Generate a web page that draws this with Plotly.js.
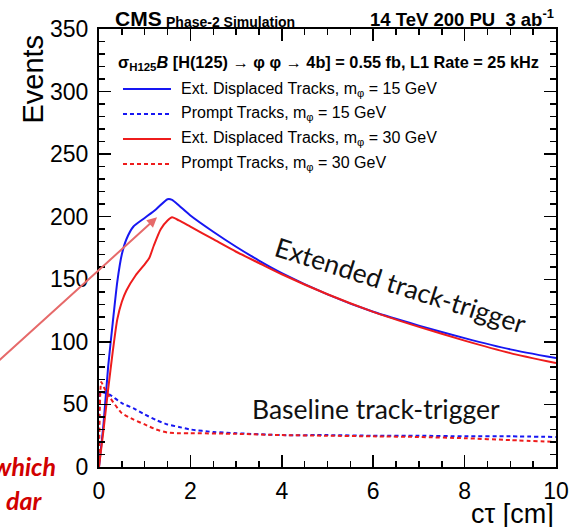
<!DOCTYPE html>
<html>
<head>
<meta charset="utf-8">
<script src="https://cdn.plot.ly/plotly-3.0.1.min.js"></script>
<style>
  html, body { margin: 0; padding: 0; background: #ffffff; }
  #chart { width: 570px; height: 527px; }
</style>
</head>
<body>
<div id="chart"></div>
<script>
// Decay length c*tau [cm] and selected signal events for H(125) -> phi phi -> 4b

// Extended (displaced) track trigger, m_phi = 15 GeV
const ctauExt15 = [0, 0.1, 0.2, 0.3, 0.4, 0.5, 0.6, 0.75, 1.0, 1.25, 1.5, 1.6, 1.75, 2, 2.5, 3, 3.5, 4, 5, 6, 7, 8, 9, 10];
const eventsExt15 = [0, 35, 80, 115, 148, 170, 182, 192, 199, 206, 214, 213.5, 209, 201, 188, 176, 165, 155, 138, 124, 113, 103, 94, 87];

// Prompt track trigger, m_phi = 15 GeV
const ctauPrompt15 = [0, 0.03, 0.1, 0.25, 0.5, 0.75, 1.0, 1.25, 1.5, 1.75, 2, 2.5, 3, 4, 5, 6, 7, 8, 9, 10];
const eventsPrompt15 = [0, 60, 59.5, 57.5, 51, 47, 42, 37.5, 34, 32, 30, 28, 27, 25.5, 25.5, 25, 25, 24.5, 24.5, 24];

// Extended (displaced) track trigger, m_phi = 30 GeV
const ctauExt30 = [0, 0.1, 0.2, 0.3, 0.4, 0.5, 0.6, 0.8, 1.0, 1.1, 1.2, 1.35, 1.5, 1.6, 1.75, 2, 2.5, 3, 3.5, 4, 5, 6, 7, 8, 9, 10];
const eventsExt30 = [0, 30, 62, 92, 118, 132, 141, 153, 162, 167, 177, 190, 197, 199.5, 197, 192, 182, 172, 163, 154, 138, 124, 112, 101, 91, 83];

// Prompt track trigger, m_phi = 30 GeV
const ctauPrompt30 = [0, 0.05, 0.1, 0.25, 0.5, 0.75, 1.0, 1.25, 1.5, 1.75, 2, 3, 4, 5, 6, 7, 8, 9, 10];
const eventsPrompt30 = [0, 68, 64, 55, 43, 38, 34, 30, 27.5, 27, 27, 26.5, 25.5, 25, 24.5, 24, 23, 21.5, 20];

const legendLabels = [
  "Ext. Displaced Tracks, m<sub>φ</sub> = 15 GeV",
  "Prompt Tracks, m<sub>φ</sub> = 15 GeV",
  "Ext. Displaced Tracks, m<sub>φ</sub> = 30 GeV",
  "Prompt Tracks, m<sub>φ</sub> = 30 GeV"
];

const BLUE = "#1717f2";
const RED = "#ee1c1c";
const DASH = "4px,3px";
const ROOT_FONT = "Liberation Sans, Arial, sans-serif";
const NOTE_FONT = "Lato, Open Sans, sans-serif";

const series = [
  { x: ctauExt15, y: eventsExt15, color: BLUE, dash: "solid", name: legendLabels[0] },
  { x: ctauPrompt15, y: eventsPrompt15, color: BLUE, dash: DASH, name: legendLabels[1] },
  { x: ctauExt30, y: eventsExt30, color: RED, dash: "solid", name: legendLabels[2] },
  { x: ctauPrompt30, y: eventsPrompt30, color: RED, dash: DASH, name: legendLabels[3] }
];

const traces = series.map(s => ({
  type: "scatter",
  mode: "lines",
  x: s.x,
  y: s.y,
  name: s.name,
  line: { color: s.color, width: 2, dash: s.dash, shape: "spline", smoothing: 0.6 },
  hoverinfo: "x+y",
  showlegend: false
}));

// Legend box drawn inside the frame, ROOT style
const legendRowsY = [0.863, 0.806, 0.749, 0.692];
const shapes = series.map((s, i) => ({
  type: "line", xref: "paper", yref: "paper",
  x0: 0.0525, x1: 0.1575, y0: legendRowsY[i], y1: legendRowsY[i],
  line: { color: s.color, width: 2, dash: s.dash }
}));

const annotations = series.map((s, i) => ({
  xref: "paper", yref: "paper", x: 0.176, y: legendRowsY[i],
  xanchor: "left", yanchor: "middle", showarrow: false,
  text: s.name, font: { family: ROOT_FONT, size: 16, color: "#000" }
}));

annotations.push(
  { xref: "paper", yref: "paper", x: 0.038, y: 0.922, xanchor: "left", yanchor: "middle", showarrow: false,
    text: "<b>σ<sub>H125</sub><i>B</i> [H(125) → φ φ → 4b] = 0.55 fb, L1 Rate = 25 kHz</b>",
    font: { family: ROOT_FONT, size: 16.3, color: "#000" } },
  // header above the frame
  { xref: "paper", yref: "paper", x: 0.03, y: 1.0, xanchor: "left", yanchor: "bottom", showarrow: false,
    text: "<b>CMS</b>", font: { family: ROOT_FONT, size: 21, color: "#000" }, yshift: -3 },
  { xref: "paper", yref: "paper", x: 0.143, y: 1.0, xanchor: "left", yanchor: "bottom", showarrow: false,
    text: "<b>Phase-2 Simulation</b>", font: { family: ROOT_FONT, size: 14, color: "#000" }, yshift: -3 },
  { xref: "paper", yref: "paper", x: 1.0, y: 1.0, xanchor: "right", yanchor: "bottom", showarrow: false,
    text: "<b>14 TeV 200 PU  3 ab<sup>-1</sup></b>", font: { family: ROOT_FONT, size: 18.5, color: "#000" }, yshift: -3 },
  // axis titles, aligned to the axis ends
  { xref: "paper", yref: "paper", x: -0.144, y: 0.885, xanchor: "center", yanchor: "middle", showarrow: false,
    textangle: -90, text: "Events", font: { family: ROOT_FONT, size: 29, color: "#000" } },
  { xref: "paper", yref: "paper", x: 1.0, y: -0.107, xanchor: "right", yanchor: "middle", showarrow: false,
    text: "cτ [cm]", font: { family: ROOT_FONT, size: 27, color: "#000" } },
  // curve labels
  { xref: "paper", yref: "paper", x: 0.659, y: 0.415, xanchor: "center", yanchor: "middle", showarrow: false,
    textangle: 17.5, text: "Extended track-trigger", font: { family: NOTE_FONT, size: 26.5, color: "#111" } },
  { xref: "paper", yref: "paper", x: 0.606, y: 0.132, xanchor: "center", yanchor: "middle", showarrow: false,
    text: "Baseline track-trigger", font: { family: NOTE_FONT, size: 26.5, color: "#111" } },
  // callout pointing at the displaced-track peak
  { xref: "x", yref: "y", x: 1.27, y: 199.5, ax: -2.9, ay: 61.5, axref: "x", ayref: "y",
    text: "", showarrow: true, arrowhead: 2, arrowsize: 1, arrowwidth: 2, arrowcolor: "#e66a6a", standoff: 0 },
  { xref: "paper", yref: "paper", x: -0.09, y: 0.002, xanchor: "right", yanchor: "middle", showarrow: false,
    text: "<b><i>which</i></b>", font: { family: NOTE_FONT, size: 25, color: "#d10000" } },
  { xref: "paper", yref: "paper", x: -0.118, y: -0.075, xanchor: "right", yanchor: "middle", showarrow: false,
    text: "<b><i>dar</i></b>", font: { family: NOTE_FONT, size: 25, color: "#d10000" } }
);

const axisCommon = {
  showline: true, linecolor: "#000", linewidth: 2, mirror: "allticks",
  ticks: "inside", ticklen: 12, tickwidth: 1.5, tickcolor: "#000",
  showgrid: false, zeroline: false,
  tickfont: { family: ROOT_FONT, size: 23, color: "#000" }
};

const layout = {
  width: 570, height: 527,
  margin: { l: 99, r: 14, t: 29, b: 60, pad: 0 },
  paper_bgcolor: "#fff", plot_bgcolor: "#fff",
  showlegend: false,
  xaxis: Object.assign({}, axisCommon, {
    range: [0, 10], dtick: 2, tick0: 0, ticklabelstandoff: 2,
    minor: { dtick: 0.5, ticks: "inside", ticklen: 6, tickwidth: 1.5, tickcolor: "#000" }
  }),
  yaxis: Object.assign({}, axisCommon, {
    range: [0, 350], dtick: 50, tick0: 0, ticklabelstandoff: 4,
    minor: { dtick: 10, ticks: "inside", ticklen: 6, tickwidth: 1.5, tickcolor: "#000" }
  }),
  shapes: shapes,
  annotations: annotations
};

Plotly.newPlot("chart", traces, layout, { displayModeBar: false, staticPlot: true });
</script>
</body>
</html>
